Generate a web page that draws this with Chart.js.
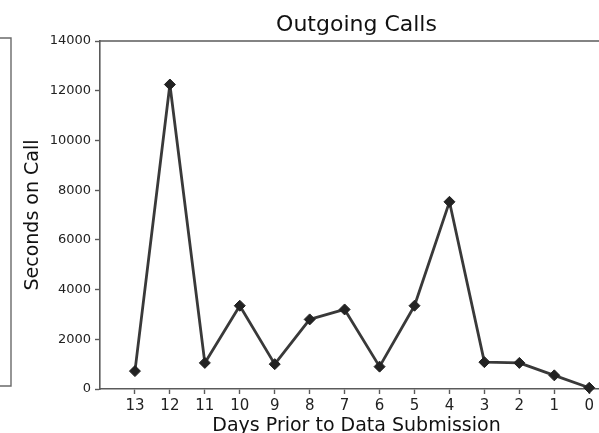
<!DOCTYPE html>
<html>
<head>
<meta charset="utf-8">
<script src="https://cdn.jsdelivr.net/npm/chart.js@4/dist/chart.umd.min.js"></script>
<style>
  html, body { margin: 0; padding: 0; background: #fff; overflow: hidden; }
  #wrap { width: 599px; height: 433px; overflow: hidden; position: relative; }
  canvas { display: block; }
</style>
</head>
<body>
<div id="wrap"><canvas id="c" width="640" height="433" style="width:640px;height:433px"></canvas></div>
<script>
// Days before the data submission and the seconds spent on outgoing calls each day
const days = [13, 12, 11, 10, 9, 8, 7, 6, 5, 4, 3, 2, 1, 0];
const seconds = [720, 12250, 1050, 3350, 1000, 2800, 3200, 900, 3350, 7530, 1080, 1050, 550, 50];
const yTicks = [0, 2000, 4000, 6000, 8000, 10000, 12000, 14000];

const FONT = "'DejaVu Sans', sans-serif";
const SPINE = '#5a5a5a';

// Frame pieces: top spine of this axes, plus the edge of the neighbouring panel on the left
const frame = {
  id: 'frame',
  afterDraw(chart) {
    const { ctx, chartArea } = chart;
    ctx.save();
    ctx.strokeStyle = SPINE;
    ctx.lineWidth = 1.6;
    ctx.beginPath();
    ctx.moveTo(chartArea.left, chartArea.top);
    ctx.lineTo(chartArea.right + 30, chartArea.top);
    ctx.stroke();
    ctx.strokeStyle = '#6a6a6a';
    ctx.lineWidth = 1.4;
    ctx.beginPath();
    ctx.moveTo(0, 38);
    ctx.lineTo(11, 38);
    ctx.lineTo(11, 386);
    ctx.lineTo(0, 386);
    ctx.stroke();
    ctx.restore();
  }
};

new Chart(document.getElementById('c'), {
  type: 'line',
  data: {
    datasets: [{
      data: days.map((d, i) => ({ x: d, y: seconds[i] })),
      borderColor: 'rgba(35,35,35,0.9)',
      borderWidth: 2.8,
      borderJoinStyle: 'round',
      pointStyle: 'rectRot',
      pointRadius: 5.5,
      pointBackgroundColor: '#222',
      pointBorderColor: '#222',
      pointBorderWidth: 1,
      tension: 0,
      clip: false
    }]
  },
  options: {
    responsive: false,
    animation: false,
    layout: { padding: { left: 0, right: 27, top: 0, bottom: 0 } },
    plugins: {
      legend: { display: false },
      tooltip: { enabled: false },
      title: {
        display: true,
        text: 'Outgoing Calls',
        fullSize: false,
        color: '#111',
        font: { family: FONT, size: 22, weight: 'normal', lineHeight: 1.2 },
        padding: { top: 12, bottom: 2.6 }
      }
    },
    scales: {
      x: {
        type: 'linear',
        reverse: true,
        min: -0.68,
        max: 14.0,
        afterBuildTicks(scale) { scale.ticks = days.map(v => ({ value: v })); },
        afterFit(scale) { scale.height = 44; },
        ticks: {
          color: '#222',
          font: { family: FONT, size: 15, lineHeight: 1 },
          padding: 5,
          maxRotation: 0,
          autoSkip: false,
          callback: v => String(v)
        },
        grid: { drawOnChartArea: false, drawTicks: true, tickLength: 5, tickColor: SPINE, tickWidth: 1.4 },
        border: { display: true, color: SPINE, width: 1.6 },
        title: {
          display: true,
          text: 'Days Prior to Data Submission',
          color: '#111',
          font: { family: FONT, size: 19, lineHeight: 1 },
          padding: { top: 0, bottom: -3 }
        }
      },
      y: {
        min: 0,
        max: 14000,
        afterBuildTicks(scale) { scale.ticks = yTicks.map(v => ({ value: v })); },
        afterFit(scale) { scale.width = 100; },
        ticks: {
          color: '#222',
          font: { family: FONT, size: 13 },
          padding: 4,
          callback: v => String(v)
        },
        grid: { drawOnChartArea: false, drawTicks: true, tickLength: 5, tickColor: SPINE, tickWidth: 1.4 },
        border: { display: true, color: SPINE, width: 1.6 },
        title: {
          display: true,
          text: 'Seconds on Call',
          color: '#111',
          font: { family: FONT, size: 19, lineHeight: 1.2 },
          padding: { top: 22, bottom: 0 }
        }
      }
    }
  },
  plugins: [frame]
});
</script>
</body>
</html>
